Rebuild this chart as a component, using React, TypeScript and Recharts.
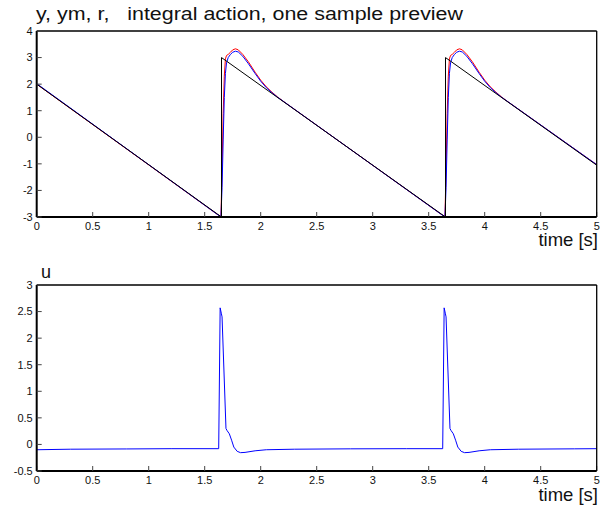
import React from 'react';
import { LineChart, Line, XAxis, YAxis } from 'recharts';

const timeTicks = [0, 0.5, 1, 1.5, 2, 2.5, 3, 3.5, 4, 4.5, 5];
const outputTicks = [-3, -2, -1, 0, 1, 2, 3, 4];
const inputTicks = [-0.5, 0, 0.5, 1, 1.5, 2, 2.5, 3];

// r: reference sawtooth
const rTime = [0, 1.65, 1.65, 3.65, 3.65, 5];
const rValue = [2, -3, 3, -3, 3, -1.05];

// y (red) and ym (blue) share the same sample times
const yTime = [
  0, 1.645, 1.655, 1.665, 1.675, 1.685, 1.695, 1.71, 1.73, 1.75, 1.775, 1.8, 1.84, 1.89, 1.95, 2.0, 2.05, 2.1, 2.15, 2.2,
  3.645, 3.655, 3.665, 3.675, 3.685, 3.695, 3.71, 3.73, 3.75, 3.775, 3.8, 3.84, 3.89, 3.95, 4.0, 4.05, 4.1, 4.15, 4.2, 5,
];
const yValue = [
  2.0, -3.0, -1.2, 0.9, 2.3, 2.95, 3.08, 3.12, 3.2, 3.29, 3.33, 3.29, 3.12, 2.84, 2.45, 2.15, 1.9, 1.7, 1.52, 1.36,
  -3.0, -1.2, 0.9, 2.3, 2.95, 3.08, 3.12, 3.2, 3.29, 3.33, 3.29, 3.12, 2.84, 2.45, 2.15, 1.9, 1.7, 1.52, 1.36, -1.03,
];
const ymValue = [
  2.02, -3.0, -1.9, -0.1, 1.5, 2.4, 2.8, 3.0, 3.12, 3.2, 3.24, 3.21, 3.05, 2.77, 2.4, 2.11, 1.87, 1.68, 1.51, 1.36,
  -3.0, -1.9, -0.1, 1.5, 2.4, 2.8, 3.0, 3.12, 3.2, 3.24, 3.21, 3.05, 2.77, 2.4, 2.11, 1.87, 1.68, 1.51, 1.36, -1.03,
];

// u: control signal
const uTime = [
  0, 0.3, 0.8, 1.2, 1.625, 1.638, 1.648, 1.655, 1.69, 1.7, 1.72, 1.74, 1.76, 1.79, 1.82, 1.86, 1.95, 2.05, 2.3, 2.8, 3.3,
  3.625, 3.638, 3.648, 3.655, 3.69, 3.7, 3.72, 3.74, 3.76, 3.79, 3.82, 3.86, 3.95, 4.05, 4.3, 4.8, 5,
];
const uValue = [
  -0.1, -0.09, -0.085, -0.08, -0.08, 2.57, 2.47, 2.4, 0.3, 0.26, 0.2, 0.08, -0.05, -0.13, -0.155, -0.15, -0.12, -0.1, -0.09,
  -0.083, -0.08, -0.08, 2.57, 2.47, 2.4, 0.3, 0.26, 0.2, 0.08, -0.05, -0.13, -0.155, -0.15, -0.12, -0.1, -0.09, -0.083, -0.08,
];

const pts = (ts: number[], vs: number[]) => ts.map((t, i) => ({ t, v: vs[i] }));

const FONT = '"Liberation Sans", Arial, Helvetica, sans-serif';
const tickText = { fontSize: 11, fill: '#111', fontFamily: FONT };
const tickLineStyle = { stroke: '#444', strokeWidth: 1 };
const thickAxis = { stroke: '#000', strokeWidth: 2 };
const thinAxis = { stroke: '#000', strokeWidth: 1.3 };

interface Series {
  key: string;
  data: { t: number; v: number }[];
  color: string;
}

function Plot({ series, domain, ticks }: { series: Series[]; domain: [number, number]; ticks: number[] }) {
  return (
    <LineChart width={602} height={254} margin={{ top: 30, right: 4.3, bottom: 0, left: 0 }}>
      <XAxis
        xAxisId="b"
        dataKey="t"
        type="number"
        domain={[0, 5]}
        ticks={timeTicks}
        interval={0}
        allowDataOverflow
        height={37}
        tickSize={-5}
        tickMargin={10}
        tick={tickText}
        tickLine={tickLineStyle}
        axisLine={thickAxis}
      />
      <XAxis
        xAxisId="top"
        orientation="top"
        dataKey="t"
        type="number"
        domain={[0, 5]}
        ticks={timeTicks}
        interval={0}
        allowDataOverflow
        height={1}
        tickSize={-5}
        tick={false}
        tickLine={tickLineStyle}
        axisLine={thinAxis}
      />
      <YAxis
        yAxisId="l"
        type="number"
        domain={domain}
        ticks={ticks}
        interval={0}
        allowDataOverflow
        width={36.7}
        tickSize={-5}
        tickMargin={9}
        tick={tickText}
        tickLine={tickLineStyle}
        axisLine={thickAxis}
      />
      <YAxis
        yAxisId="right"
        orientation="right"
        type="number"
        domain={domain}
        ticks={ticks}
        interval={0}
        allowDataOverflow
        width={1}
        tickSize={-5}
        tick={false}
        tickLine={tickLineStyle}
        axisLine={thinAxis}
      />
      {series.map((s) => (
        <Line
          key={s.key}
          xAxisId="b"
          yAxisId="l"
          data={s.data}
          dataKey="v"
          type="linear"
          stroke={s.color}
          strokeWidth={1}
          dot={false}
          activeDot={false}
          isAnimationActive={false}
        />
      ))}
    </LineChart>
  );
}

export default function App() {
  const outputSeries: Series[] = [
    { key: 'y', data: pts(yTime, yValue), color: '#ff0000' },
    { key: 'ym', data: pts(yTime, ymValue), color: '#0000ff' },
    { key: 'r', data: pts(rTime, rValue), color: '#000000' },
  ];
  const inputSeries: Series[] = [{ key: 'u', data: pts(uTime, uValue), color: '#0000ff' }];

  return (
    <div style={{ position: 'relative', width: 602, height: 508, background: '#fff', fontFamily: FONT }}>
      <style>{'body{margin:0}'}</style>
      <div style={{ position: 'absolute', left: 0, top: 0 }}>
        <Plot series={outputSeries} domain={[-3, 4]} ticks={outputTicks} />
      </div>
      <div style={{ position: 'absolute', left: 0, top: 254 }}>
        <Plot series={inputSeries} domain={[-0.5, 3]} ticks={inputTicks} />
      </div>
      <svg width={602} height={508} style={{ position: 'absolute', left: 0, top: 0, pointerEvents: 'none' }}>
        <text
          x={36}
          y={20}
          fontSize={17.5}
          fill="#111"
          fontFamily={FONT}
          textLength={427}
          lengthAdjust="spacingAndGlyphs"
          style={{ whiteSpace: 'pre' }}
        >
          {'y, ym, r,   integral action, one sample preview'}
        </text>
        <text x={598} y={246} fontSize={18.5} fill="#111" fontFamily={FONT} textAnchor="end">
          time [s]
        </text>
        <text x={41} y={278} fontSize={18} fill="#111" fontFamily={FONT}>
          u
        </text>
        <text x={598} y={501} fontSize={18.5} fill="#111" fontFamily={FONT} textAnchor="end">
          time [s]
        </text>
      </svg>
    </div>
  );
}
